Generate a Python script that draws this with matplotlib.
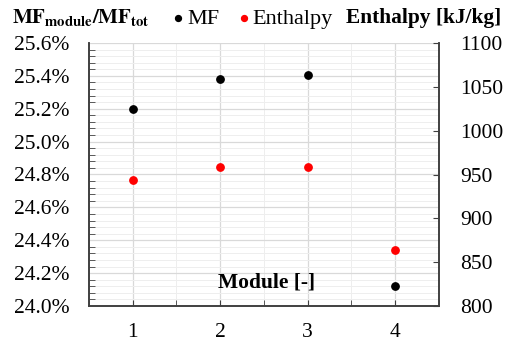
import matplotlib
matplotlib.use("Agg")
import matplotlib.pyplot as plt
from matplotlib.ticker import MultipleLocator, FuncFormatter

modules = [1, 2, 3, 4]
mf_pct = [25.20, 25.38, 25.405, 24.12]
enthalpy = [944, 959, 959, 864]
x_labels = ["1", "2", "3", "4"]

plt.rcParams['font.family'] = ['Liberation Serif', 'DejaVu Serif']
fs = 15.5

fig = plt.figure(figsize=(5.06, 3.45), dpi=100)
ax = fig.add_axes([89/506, 1-306/345, 350/506, 263/345])
ax2 = ax.twinx()

ax.scatter(modules, mf_pct, s=28, color='black', zorder=3, label='MF')
ax2.scatter(modules, enthalpy, s=28, color='red', zorder=3, label='Enthalpy')

ax.set_xlim(0.5, 4.5)
ax.set_ylim(24.0, 25.6)
ax2.set_ylim(800, 1100)

ax.set_xticks(modules)
ax.set_xticklabels(x_labels)
ax.xaxis.set_minor_locator(MultipleLocator(0.5))
ax.yaxis.set_major_locator(MultipleLocator(0.2))
ax.yaxis.set_minor_locator(MultipleLocator(0.04))
ax.yaxis.set_major_formatter(FuncFormatter(lambda v, p: f"{v:.1f}%"))
ax2.yaxis.set_major_locator(MultipleLocator(50))

ax.grid(which='major', color='#d9d9d9', lw=0.9)
ax.grid(which='minor', color='#eeeeee', lw=0.7)
ax.set_axisbelow(True)

ax.tick_params(axis='x', which='both', direction='in', length=4, labelsize=fs, pad=12, color='#404040')
ax.tick_params(axis='y', which='major', direction='in', length=0, labelsize=fs, pad=14)
ax.tick_params(axis='y', which='minor', direction='in', length=4, color='#404040')
ax2.tick_params(axis='y', which='major', direction='in', length=4, labelsize=fs, pad=15, color='#404040')

for sp in ['top']:
    ax.spines[sp].set_visible(False)
    ax2.spines[sp].set_visible(False)
for a in (ax, ax2):
    for sp in ['left', 'right', 'bottom']:
        a.spines[sp].set_color('#404040')
        a.spines[sp].set_linewidth(1.2)

fig.text(12/506, 1-18/345, r"$\mathbf{MF_{module}/MF_{tot}}$", fontsize=15, va='center', ha='left',
         math_fontfamily='stix')
fig.text(501/506, 1-18/345, "Enthalpy [kJ/kg]", fontsize=15.4, fontweight='bold', va='center', ha='right')
ax.text(2.53, 24.146, "Module [-]", fontsize=15.5, fontweight='bold', ha='center', va='center')

h1, l1 = ax.get_legend_handles_labels()
h2, l2 = ax2.get_legend_handles_labels()
fig.legend(h1 + h2, l1 + l2, loc='center', bbox_to_anchor=(249/506, 1-19/345), ncol=2, frameon=False,
           fontsize=16, handletextpad=-0.2, columnspacing=0.5, markerscale=0.8,
           borderpad=0, handlelength=1.2)

fig.savefig("out.png", dpi=100)
